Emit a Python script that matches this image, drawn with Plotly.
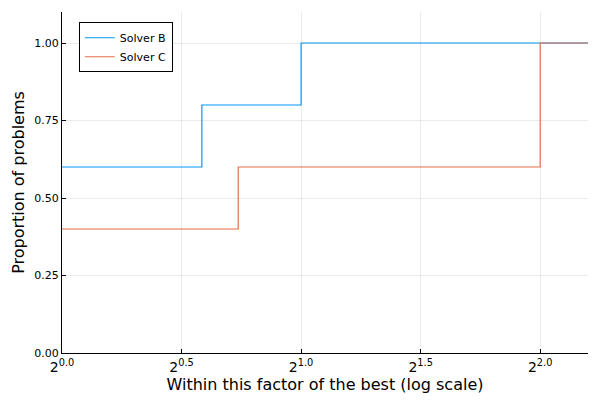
import plotly.graph_objects as go
import math

# Performance ratios (tau) and proportion of problems solved
solver_b_tau = [1.0, 1.5, 2.0, 4.595]
solver_b_prop = [0.6, 0.8, 1.0, 1.0]
solver_c_tau = [1.0, 5.0 / 3.0, 4.0, 4.595]
solver_c_prop = [0.4, 0.6, 1.0, 1.0]

x_tick_exps = [0.0, 0.5, 1.0, 1.5, 2.0]
y_tick_vals = [0.0, 0.25, 0.5, 0.75, 1.0]
y_tick_text = ["0.00", "0.25", "0.50", "0.75", "1.00"]

fig = go.Figure()
fig.add_trace(go.Scatter(x=solver_b_tau, y=solver_b_prop, mode="lines",
                         line=dict(shape="hv", color="#009AFA", width=1.2),
                         name="Solver B"))
fig.add_trace(go.Scatter(x=solver_c_tau, y=solver_c_prop, mode="lines",
                         line=dict(shape="hv", color="#E36F47", width=1.2),
                         name="Solver C"))

# the page body adds an 8px offset, so the figure is 592x392 and margins compensate
fig.update_layout(
    width=592, height=392,
    margin=dict(l=54, r=12, t=4, b=47),
    paper_bgcolor="white", plot_bgcolor="white",
    font=dict(family="DejaVu Sans", color="black"),
    legend=dict(x=0.032, y=0.97, xanchor="left", yanchor="top",
                bordercolor="black", borderwidth=1, bgcolor="white",
                font=dict(size=11), tracegroupgap=0, itemwidth=30),
    xaxis=dict(
        type="log", range=[0, 2.2 * math.log10(2)],
        tickvals=[2 ** e for e in x_tick_exps],
        ticktext=["2<sup>%.1f</sup>" % e for e in x_tick_exps],
        tickfont=dict(size=14),
        ticks="inside", ticklen=4, tickcolor="black",
        showline=True, linecolor="black", linewidth=1,
        showgrid=True, gridcolor="rgba(0,0,0,0.08)", gridwidth=1,
        zeroline=False, automargin=False, ticklabelstandoff=1,
        title=dict(text="Within this factor of the best (log scale)",
                   font=dict(size=16), standoff=5),
    ),
    yaxis=dict(
        range=[0, 1.1],
        tickvals=y_tick_vals, ticktext=y_tick_text,
        tickfont=dict(size=11),
        ticks="inside", ticklen=4, tickcolor="black",
        showline=True, linecolor="black", linewidth=1,
        showgrid=True, gridcolor="rgba(0,0,0,0.08)", gridwidth=1,
        zeroline=False, automargin=False,
        title=dict(text="Proportion of problems", font=dict(size=16), standoff=5),
    ),
)

fig.write_html("out.html")
